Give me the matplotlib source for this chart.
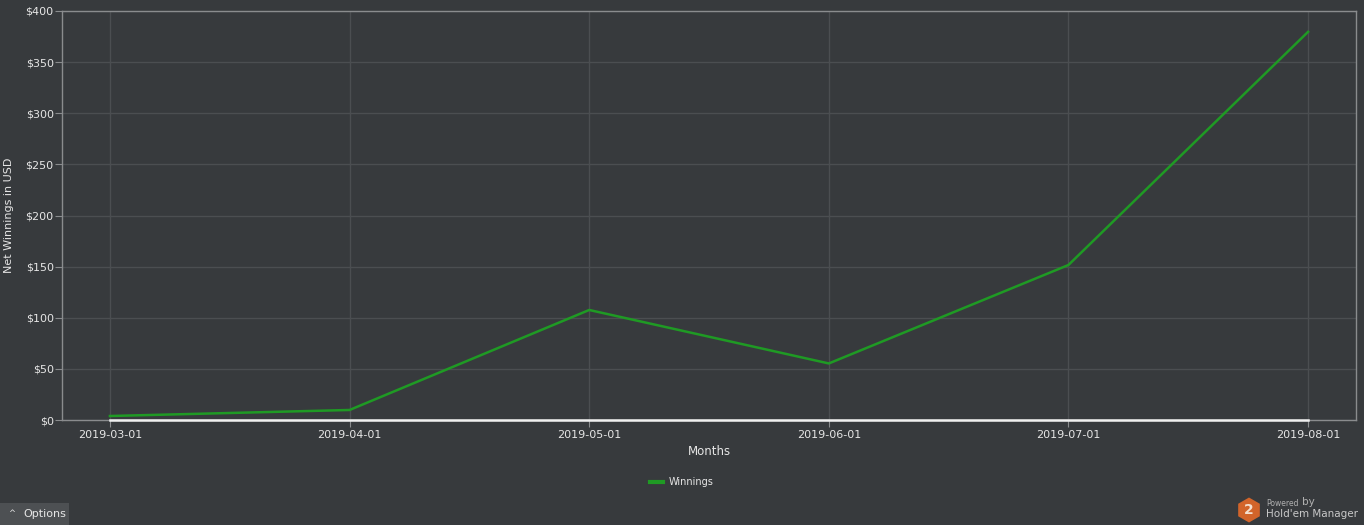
import matplotlib
matplotlib.use("Agg")
import matplotlib.pyplot as plt
from matplotlib.patches import RegularPolygon, Rectangle

# data
months = ["2019-03-01", "2019-04-01", "2019-05-01", "2019-06-01", "2019-07-01", "2019-08-01"]
winnings = [3.9, 9.8, 107.6, 55.3, 151.6, 379.6]
baseline = [0, 0, 0, 0, 0, 0]
y_ticks = [0, 50, 100, 150, 200, 250, 300, 350, 400]
y_labels = ["$" + str(v) for v in y_ticks]

bg = "#373a3d"
grid_c = "#4b4e51"
text_c = "#e6e6e6"
green = "#1f9a24"

fig = plt.figure(figsize=(13.64, 5.25), dpi=100, facecolor=bg)
ax = fig.add_axes([62 / 1364, 1 - 420 / 525, (1356 - 62) / 1364, (420 - 11) / 525])
ax.set_facecolor(bg)

x = list(range(len(months)))
ax.plot(x, baseline, color="#f0f0f0", lw=1.8, zorder=3, clip_on=False)
line, = ax.plot(x, winnings, color=green, lw=1.8, zorder=4, label="Winnings")

ax.set_xlim(-0.2, len(months) - 0.8)
ax.set_ylim(0, 400)
ax.set_xticks(x)
ax.set_xticklabels(months)
ax.set_yticks(y_ticks)
ax.set_yticklabels(y_labels)
ax.grid(True, color=grid_c, lw=1)
ax.set_axisbelow(True)

for s in ax.spines.values():
    s.set_color("#8a8c8e")
    s.set_linewidth(1)

ax.tick_params(colors="#8a8c8e", labelcolor=text_c, labelsize=8, length=5)
ax.tick_params(axis="x", pad=2)
ax.tick_params(axis="y", pad=1)
ax.set_xlabel("Months", color=text_c, fontsize=8.5, labelpad=4)
ax.set_ylabel("Net Winnings in USD", color=text_c, fontsize=8)
ax.yaxis.set_label_coords(-(62 - 14) / 1294, 0.5)

leg = fig.legend(handles=[line], loc="center", bbox_to_anchor=(0.5, 1 - 482 / 525),
                 frameon=False, fontsize=7, handlelength=1.3, handletextpad=0.6)
for t in leg.get_texts():
    t.set_color(text_c)
leg.get_lines()[0].set_linewidth(3)

# Options button
fig.patches.append(Rectangle((0, 0), 69 / 1364, 22 / 525, transform=fig.transFigure,
                             facecolor="#4d5053", edgecolor="none"))
fig.text(8 / 1364, 11 / 525, "^", color=text_c, fontsize=6, va="center")
fig.text(23 / 1364, 11 / 525, "Options", color=text_c, fontsize=8, va="center")

# logo
fig.patches.append(RegularPolygon((12.49, 0.15), numVertices=6, radius=0.125,
                                  orientation=0, transform=fig.dpi_scale_trans,
                                  facecolor="#d2642a", edgecolor="none"))
fig.text(1249 / 1364, 15 / 525, "2", color="#f4e0d0", fontsize=10, fontweight="bold",
         ha="center", va="center")
fig.text(1266 / 1364, 22 / 525, "Powered", color="#b0b0b0", fontsize=5.5, va="center")
fig.text(1302 / 1364, 23 / 525, "by", color="#b0b0b0", fontsize=7.5, va="center")
fig.text(1266 / 1364, 11 / 525, "Hold'em Manager", color="#c8c8c8", fontsize=7.5, va="center")

fig.savefig("out.png", dpi=100, facecolor=bg)
